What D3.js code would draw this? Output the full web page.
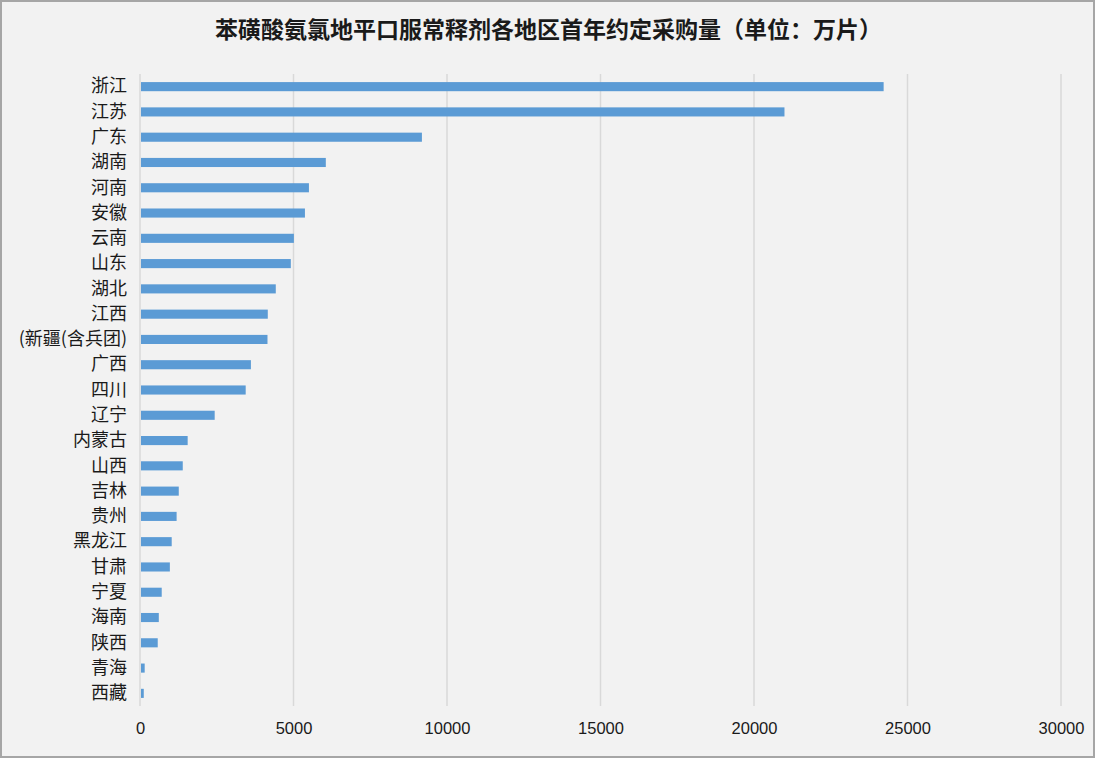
<!DOCTYPE html>
<html>
<head>
<meta charset="utf-8">
<script src="https://cdn.jsdelivr.net/npm/d3@7/dist/d3.min.js"></script>
<style>
  html, body { margin: 0; padding: 0; background: #fff; }
  svg { display: block; }
</style>
</head>
<body>
<svg id="chart"></svg>
<script>
// chart data
var title = "苯磺酸氨氯地平口服常释剂各地区首年约定采购量（单位：万片）";
var regions = ["浙江", "江苏", "广东", "湖南", "河南", "安徽", "云南", "山东", "湖北", "江西",
  "(新疆(含兵团)", "广西", "四川", "辽宁", "内蒙古", "山西", "吉林", "贵州", "黑龙江", "甘肃",
  "宁夏", "海南", "陕西", "青海", "西藏"];
var amounts = [24190, 20960, 9150, 6020, 5470, 5340, 4980, 4880, 4390, 4130,
  4120, 3580, 3410, 2400, 1520, 1360, 1230, 1160, 1000, 940,
  675, 580, 545, 120, 90];
var xTicks = [0, 5000, 10000, 15000, 20000, 25000, 30000];

var W = 1095, H = 758;
var margin = {top: 74, right: 34, bottom: 52, left: 140},
    width = W - margin.left - margin.right,
    height = H - margin.top - margin.bottom;

var svg = d3.select("#chart")
    .attr("width", W)
    .attr("height", H);

// background + border
svg.append("rect")
    .attr("x", 1).attr("y", 1)
    .attr("width", W - 2).attr("height", H - 2)
    .attr("fill", "#f2f2f2")
    .attr("stroke", "#a6a6a6")
    .attr("stroke-width", 2);

svg.append("text")
    .attr("x", W / 2 + 1)
    .attr("y", 38)
    .attr("text-anchor", "middle")
    .style("font-family", "'Noto Sans CJK SC', sans-serif")
    .style("font-weight", "bold")
    .style("font-size", "23px")
    .style("fill", "#1a1a1a")
    .text(title);

var g = svg.append("g")
    .attr("transform", "translate(" + margin.left + "," + margin.top + ")");

var x = d3.scaleLinear().domain([0, 30000]).range([0, width]);
var y = d3.scaleBand().domain(regions).range([0, height]).paddingInner(0.64).paddingOuter(0.32);

// gridlines
g.selectAll(".grid")
    .data(xTicks)
    .enter().append("line")
    .attr("class", "grid")
    .attr("x1", function (d) { return x(d); })
    .attr("x2", function (d) { return x(d); })
    .attr("y1", 0)
    .attr("y2", height)
    .attr("stroke", "#d9d9d9")
    .attr("stroke-width", 1.5);

// bars
g.selectAll(".bar")
    .data(amounts)
    .enter().append("rect")
    .attr("class", "bar")
    .attr("x", x(0) + 1)
    .attr("y", function (d, i) { return y(regions[i]); })
    .attr("width", function (d) { return x(d) - x(0); })
    .attr("height", y.bandwidth())
    .attr("fill", "#5b9bd5");

// x axis
var xAxis = d3.axisBottom(x).tickValues(xTicks).tickSize(0).tickPadding(16).tickFormat(d3.format("d"));
var xa = g.append("g")
    .attr("transform", "translate(0," + height + ")")
    .call(xAxis);
xa.select(".domain").remove();
xa.selectAll("text")
    .style("font-family", "'Liberation Sans Narrow', 'Liberation Sans', sans-serif")
    .style("font-size", "16.5px")
    .style("fill", "#1a1a1a");

// y axis
var yAxis = d3.axisLeft(y).tickSize(0).tickPadding(13);
var ya = g.append("g").call(yAxis);
ya.select(".domain").remove();
ya.selectAll("text")
    .style("font-family", "'Noto Sans CJK SC', sans-serif")
    .style("font-size", "18px")
    .style("fill", "#1a1a1a");
</script>
</body>
</html>
